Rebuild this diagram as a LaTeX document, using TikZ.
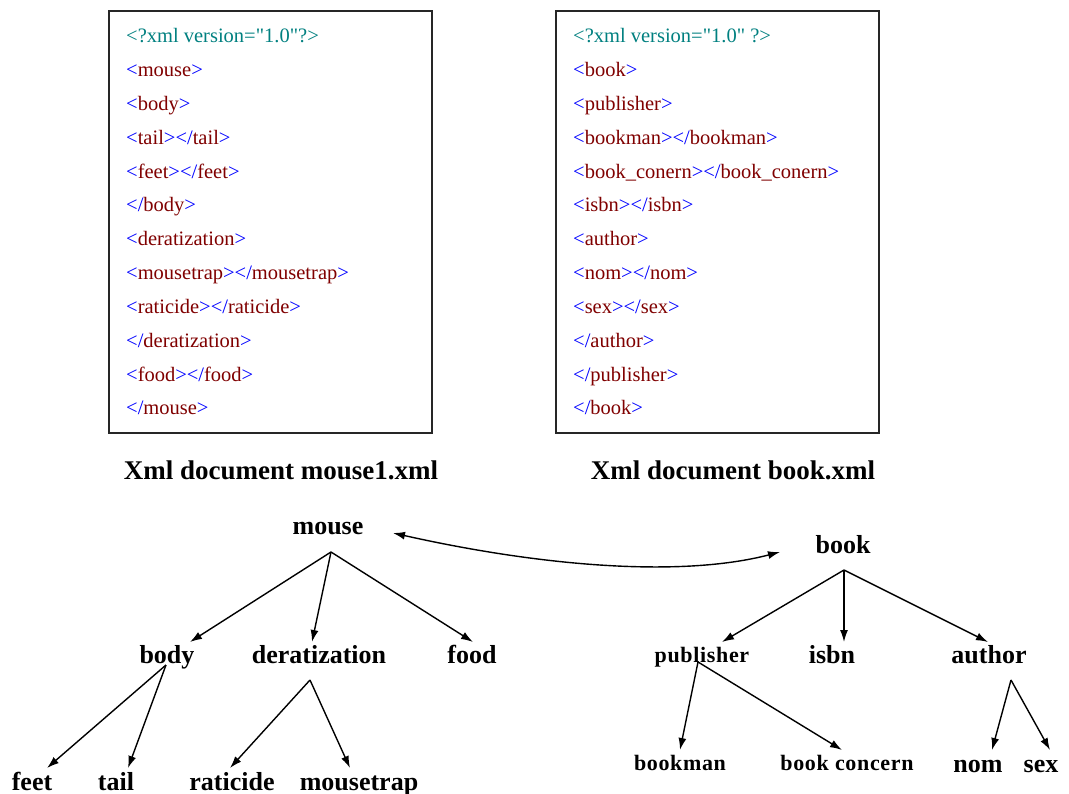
\documentclass[tikz,border=0pt]{standalone}
\usepackage{fontspec}
\setmainfont{Liberation Serif}
\newfontfamily\declfont{Liberation Serif}[Ligatures=TeXOff]
\usetikzlibrary{arrows.meta,calc}
\definecolor{decl}{RGB}{0,128,128}
\definecolor{brk}{RGB}{0,0,255}
\definecolor{tagname}{RGB}{128,0,0}
\newcommand\otag[1]{\textcolor{brk}{<}\textcolor{tagname}{#1}\textcolor{brk}{>}}
\newcommand\ctag[1]{\textcolor{brk}{</}\textcolor{tagname}{#1}\textcolor{brk}{>}}
\newcommand\xmldecl[1]{\textcolor{decl}{\declfont #1}}
\tikzset{
  codebox/.style={draw=black!85,line width=1.6pt,fill=white},
  codeline/.style={anchor=base west,inner sep=0pt,font=\fontsize{20.5}{24}\selectfont},
  caption/.style={anchor=base,inner sep=0pt,font=\fontsize{27}{30}\selectfont\bfseries},
  elem/.style={anchor=base,inner sep=0pt,font=\fontsize{26}{30}\selectfont\bfseries},
  smallelem/.style={anchor=base,inner sep=0pt,font=\fontsize{22}{26}\selectfont\bfseries\addfontfeature{LetterSpace=3}},
  link/.style={line width=1.4pt,-{Latex[length=12pt,width=8pt]}},
  twolink/.style={line width=1.4pt,{Latex[length=12pt,width=8pt]}-{Latex[length=12pt,width=8pt]}}
}
\begin{document}
\begin{tikzpicture}[x=1pt,y=-1pt]
\useasboundingbox (0,0) rectangle (1069,794);
\fill[white] (0,0) rectangle (1069,794);

% XML source of mouse1.xml
\draw[codebox] (109,11) rectangle (432,433);
\foreach \i/\t in {
  0/{\xmldecl{<?xml version="1.0"?>}},
  1/{\otag{mouse}},
  2/{\otag{body}},
  3/{\otag{tail}\ctag{tail}},
  4/{\otag{feet}\ctag{feet}},
  5/{\ctag{body}},
  6/{\otag{deratization}},
  7/{\otag{mousetrap}\ctag{mousetrap}},
  8/{\otag{raticide}\ctag{raticide}},
  9/{\ctag{deratization}},
  10/{\otag{food}\ctag{food}},
  11/{\ctag{mouse}}}
  \node[codeline] (ma\i) at (126,{43+33.8*\i}) {\t};

% XML source of book.xml
\draw[codebox] (556,11) rectangle (879,433);
\foreach \i/\t in {
  0/{\xmldecl{<?xml version="1.0" ?>}},
  1/{\otag{book}},
  2/{\otag{publisher}},
  3/{\otag{bookman}\ctag{bookman}},
  4/{\otag{book\_conern}\ctag{book\_conern}},
  5/{\otag{isbn}\ctag{isbn}},
  6/{\otag{author}},
  7/{\otag{nom}\ctag{nom}},
  8/{\otag{sex}\ctag{sex}},
  9/{\ctag{author}},
  10/{\ctag{publisher}},
  11/{\ctag{book}}}
  \node[codeline] (bk\i) at (573,{43+33.8*\i}) {\t};

% captions
\node[caption] (capm) at (281,479) {Xml document mouse1.xml};
\node[caption] (capb) at (733,479) {Xml document book.xml};

% mouse tree
\node[elem] (mouse) at (328,534) {mouse};
\node[elem] (body) at (167,663) {body};
\node[elem] (derat) at (319,663) {deratization};
\node[elem] (food) at (472,663) {food};
\node[elem] (feet) at (32,790) {feet};
\node[elem] (tail) at (116,790) {tail};
\node[elem] (raticide) at (232,790) {raticide};
\node[elem] (mousetrap) at (359,790) {mousetrap};

% book tree
\node[elem] (book) at (843,553) {book};
\node[smallelem] (publisher) at (702,662) {publisher};
\node[elem] (isbn) at (832,663) {isbn};
\node[elem] (author) at (989,663) {author};
\node[smallelem] (bookman) at (680,770) {bookman};
\node[smallelem] (concern) at (847,770) {book concern};
\node[elem] (nom) at (978,772) {nom};
\node[elem] (sex) at (1041,772) {sex};

% mouse tree edges
\draw[link] ($(mouse.base)+(3,18)$) -- ($(body.base)+(23,-21)$);
\draw[link] ($(mouse.base)+(3,18)$) -- ($(derat.base)+(-7,-21)$);
\draw[link] ($(mouse.base)+(3,18)$) -- ($(food.base)+(1,-21)$);
\draw[link] ($(body.base)+(-1,2)$) -- ($(feet.base)+(15,-22)$);
\draw[link] ($(body.base)+(-1,2)$) -- ($(tail.base)+(12,-22)$);
\draw[link] ($(derat.base)+(-9,17)$) -- ($(raticide.base)+(-2,-22)$);
\draw[link] ($(derat.base)+(-9,17)$) -- ($(mousetrap.base)+(-9,-22)$);

% book tree edges
\draw[link] ($(book.base)+(1,17)$) -- ($(publisher.base)+(20,-20)$);
\draw[link] ($(book.base)+(1,17)$) -- ($(isbn.base)+(12,-21)$);
\draw[link] ($(book.base)+(1,17)$) -- ($(author.base)+(-1,-21)$);
\draw[link] ($(publisher.base)+(-4,0)$) -- ($(bookman.base)+(0,-20)$);
\draw[link] ($(publisher.base)+(-4,0)$) -- ($(concern.base)+(-5,-20)$);
\draw[link] ($(author.base)+(22,17)$) -- ($(nom.base)+(14,-22)$);
\draw[link] ($(author.base)+(22,17)$) -- ($(sex.base)+(9,-22)$);

% correspondence between the two roots
\draw[twolink] ($(mouse.base)+(65,-1)$) .. controls (540,566) and (680,578) .. ($(book.base)+(-63,-1)$);
\end{tikzpicture}
\end{document}
